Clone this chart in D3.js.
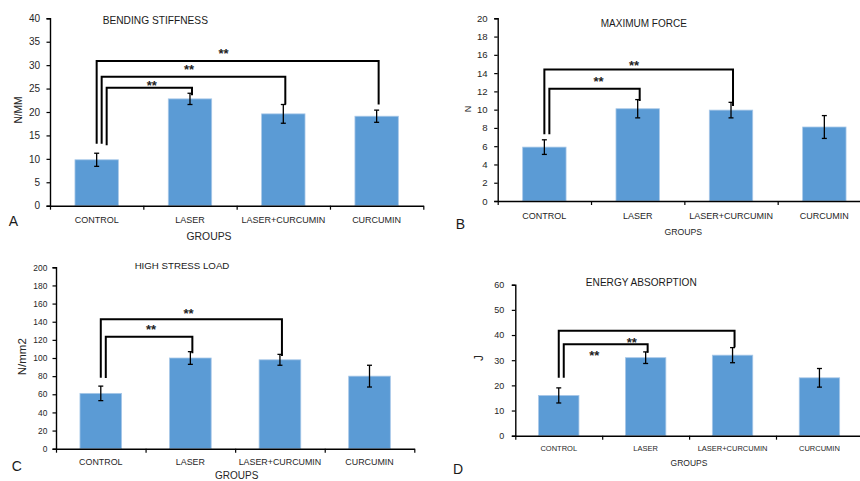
<!DOCTYPE html>
<html>
<head>
<meta charset="utf-8">
<script src="https://cdn.jsdelivr.net/npm/d3@7"></script>
<style>
  html, body { margin: 0; padding: 0; background: #fff; }
  svg { display: block; font-family: "Liberation Sans", Arial, sans-serif; }
</style>
</head>
<body>
<svg id="chart" width="860" height="481"></svg>
<script>
// ---------- DATA ----------
const categories = ["CONTROL", "LASER", "LASER+CURCUMIN", "CURCUMIN"];

const stiffnessMean = [9.8, 22.8, 19.6, 19.1];
const stiffnessErr  = [1.4, 1.2, 2.0, 1.3];
const stiffnessTicks = [0, 5, 10, 15, 20, 25, 30, 35, 40];
// [fromIndex, toIndex, topValue, leftEndValue, rightEndValue]
const stiffnessBrackets = [[0, 3, 30.9, 13.2, 21.6], [0, 2, 27.5, 13.2, 21.6], [0, 1, 25.2, 12.9, 23.6]];
// [position in category units from CONTROL, value]
const stiffnessStars = [[1.36, 33.1], [0.99, 29.7], [0.59, 26.3]];

const forceMean = [5.9, 10.1, 9.95, 8.1];
const forceErr  = [0.8, 1.0, 0.85, 1.25];
const forceTicks = [0, 2, 4, 6, 8, 10, 12, 14, 16, 18, 20];
const forceBrackets = [[0, 2, 14.4, 7.3, 10.4], [0, 1, 12.3, 7.3, 10.95]];
const forceStars = [[0.96, 15.2], [0.58, 13.4]];

const stressMean = [61, 100, 98, 80];
const stressErr  = [8, 7, 6, 12];
const stressTicks = [0, 20, 40, 60, 80, 100, 120, 140, 160, 180, 200];
const stressBrackets = [[0, 2, 142.7, 78.3, 102.2], [0, 1, 123.5, 78.0, 105.2]];
const stressStars = [[0.98, 152.9], [0.56, 134.5]];

const energyMean = [16, 31, 32, 23];
const energyErr  = [3, 2.3, 3, 3.7];
const energyTicks = [0, 10, 20, 30, 40, 50, 60];
const energyBrackets = [[0, 2, 41.7, 23, 35.1], [0, 1, 36.3, 23, 33]];
const energyStars = [[0.84, 38.3], [0.41, 33.0]];

// ---------- LAYOUT ----------
const panels = [
  { mean: stiffnessMean, err: stiffnessErr, ticks: stiffnessTicks, brackets: stiffnessBrackets, stars: stiffnessStars,
    title: "BENDING STIFFNESS", ylabel: "N/MM", letter: "A",
    x0: 50, x1: 423.3, yTop: 18.3, yBot: 205.7,
    tickFont: 10, tickGap: 10, catFont: 9, catY: 220,
    titlePos: [155.3, 20], titleFont: 10.2,
    ylabelPos: [18, 110], ylabelFont: 10.2,
    groupsPos: [209, 236.7], groupsFont: 10.4,
    letterPos: [13.3, 226], letterFont: 14 },
  { mean: forceMean, err: forceErr, ticks: forceTicks, brackets: forceBrackets, stars: forceStars,
    title: "MAXIMUM FORCE", ylabel: "N", letter: "B",
    x0: 497.7, x1: 871, yTop: 18.3, yBot: 201,
    tickFont: 9.6, tickGap: 10, catFont: 9, catY: 216,
    titlePos: [643.8, 23.3], titleFont: 10,
    ylabelPos: [467.7, 109], ylabelFont: 9,
    groupsPos: [683.3, 231.7], groupsFont: 8.7,
    letterPos: [460.5, 229.3], letterFont: 14 },
  { mean: stressMean, err: stressErr, ticks: stressTicks, brackets: stressBrackets, stars: stressStars,
    title: "HIGH STRESS LOAD", ylabel: "N/mm2", letter: "C",
    x0: 56, x1: 414.3, yTop: 267.3, yBot: 448.7,
    tickFont: 8.4, tickGap: 8.7, catFont: 8.9, catY: 462.3,
    titlePos: [182, 266], titleFont: 9.7,
    ylabelPos: [22, 356.7], ylabelFont: 11.5,
    groupsPos: [236.7, 475], groupsFont: 10,
    letterPos: [16.7, 470.7], letterFont: 14 },
  { mean: energyMean, err: energyErr, ticks: energyTicks, brackets: energyBrackets, stars: energyStars,
    title: "ENERGY ABSORPTION", ylabel: "J", letter: "D",
    x0: 515.3, x1: 862.9, yTop: 284.7, yBot: 435.7,
    tickFont: 9, tickGap: 11, catFont: 7.5, catY: 448,
    titlePos: [641.3, 282.3], titleFont: 10.1,
    ylabelPos: [479, 358], ylabelFont: 12,
    groupsPos: [689, 463.3], groupsFont: 8.5,
    letterPos: [458, 474], letterFont: 14 }
];

const svg = d3.select("#chart");
const barColor = "#5B9BD5";
const textColor = "#262626";

panels.forEach(p => {
  const g = svg.append("g");
  const yMax = p.ticks[p.ticks.length - 1];
  const y = d3.scaleLinear().domain([0, yMax]).range([p.yBot, p.yTop]);
  const pad = 0.535;
  const x = d3.scaleBand().domain(categories).range([p.x0, p.x1]).paddingInner(pad).paddingOuter(pad / 2);
  const step = x.step();
  const cx = i => x(categories[i]) + x.bandwidth() / 2;

  // bars
  g.selectAll("rect.bar").data(p.mean).join("rect")
    .attr("class", "bar")
    .attr("x", (d, i) => x(categories[i]))
    .attr("width", x.bandwidth())
    .attr("y", d => y(d))
    .attr("height", d => y(0) - y(d))
    .attr("fill", barColor)
    .attr("stroke", "#a8c8e8")
    .attr("stroke-width", 0.8);

  // error bars
  const eb = g.append("g").attr("stroke", "#000").attr("stroke-width", 1.3);
  p.mean.forEach((m, i) => {
    const lo = y(m - p.err[i]), hi = y(m + p.err[i]), c = cx(i);
    eb.append("line").attr("x1", c).attr("x2", c).attr("y1", lo).attr("y2", hi);
    eb.append("line").attr("x1", c - 2.5).attr("x2", c + 2.5).attr("y1", lo).attr("y2", lo);
    eb.append("line").attr("x1", c - 2.5).attr("x2", c + 2.5).attr("y1", hi).attr("y2", hi);
  });

  // y axis
  const yAxis = g.append("g").attr("transform", `translate(${p.x0},0)`)
    .call(d3.axisLeft(y).tickValues(p.ticks).tickSize(3.5).tickPadding(p.tickGap - 3.5).tickFormat(d3.format("d")));
  yAxis.select(".domain").attr("stroke", "#000").attr("stroke-width", 1.4);
  yAxis.selectAll(".tick line").attr("stroke", "#000").attr("stroke-width", 1.2);
  yAxis.selectAll(".tick text").attr("fill", textColor).style("font-size", p.tickFont + "px")
    .style("font-family", "'Liberation Sans', Arial, sans-serif");

  // x axis: line with boundary ticks
  const xb = d3.scaleLinear().domain([0, categories.length]).range([p.x0, p.x1]);
  const xAxis = g.append("g").attr("transform", `translate(0,${p.yBot})`)
    .call(d3.axisBottom(xb).tickValues(d3.range(0, categories.length + 1)).tickSize(4).tickSizeOuter(0).tickFormat(""));
  xAxis.select(".domain").attr("stroke", "#000").attr("stroke-width", 1.4);
  xAxis.selectAll(".tick line").attr("stroke", "#000").attr("stroke-width", 1.2);

  // category labels
  g.selectAll("text.cat").data(categories).join("text")
    .attr("class", "cat")
    .attr("x", (d, i) => cx(i))
    .attr("y", p.catY + p.catFont * 0.35)
    .attr("text-anchor", "middle")
    .attr("fill", textColor)
    .style("font-size", p.catFont + "px")
    .text(d => d);

  // brackets
  p.brackets.forEach((b, i) => {
    const lx = cx(b[0]) + i * 5;
    const rx = cx(b[1]) + 2;
    const path = d3.path();
    path.moveTo(lx, y(b[3]));
    path.lineTo(lx, y(b[2]));
    path.lineTo(rx, y(b[2]));
    path.lineTo(rx, y(b[4]));
    g.append("path").attr("d", path.toString()).attr("fill", "none")
      .attr("stroke", "#000").attr("stroke-width", 2);
  });

  // stars
  p.stars.forEach(s => {
    g.append("text")
      .attr("x", cx(0) + s[0] * step)
      .attr("y", y(s[1]) + 7.5)
      .attr("text-anchor", "middle")
      .attr("fill", "#222")
      .style("font-size", "13px")
      .style("font-weight", "bold")
      .text("**");
  });

  // title
  g.append("text").attr("x", p.titlePos[0]).attr("y", p.titlePos[1] + p.titleFont * 0.35)
    .attr("text-anchor", "middle").attr("fill", "#1a1a1a")
    .style("font-size", p.titleFont + "px").text(p.title);

  // y label
  g.append("text")
    .attr("transform", `translate(${p.ylabelPos[0] + p.ylabelFont * 0.35},${p.ylabelPos[1]}) rotate(-90)`)
    .attr("text-anchor", "middle").attr("fill", textColor)
    .style("font-size", p.ylabelFont + "px").text(p.ylabel);

  // groups label
  g.append("text").attr("x", p.groupsPos[0]).attr("y", p.groupsPos[1] + p.groupsFont * 0.35)
    .attr("text-anchor", "middle").attr("fill", textColor)
    .style("font-size", p.groupsFont + "px").text("GROUPS");

  // panel letter
  g.append("text").attr("x", p.letterPos[0]).attr("y", p.letterPos[1])
    .attr("text-anchor", "middle").attr("fill", "#1a1a1a")
    .style("font-size", p.letterFont + "px").text(p.letter);
});
</script>
</body>
</html>
